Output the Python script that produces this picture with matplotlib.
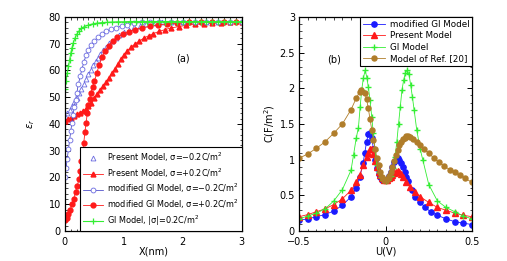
import matplotlib
matplotlib.use("Agg")
import matplotlib.pyplot as plt
from matplotlib.ticker import MultipleLocator

# ---- panel (a): relative permittivity vs distance ----
gi_x = [0, 0.02, 0.04, 0.06, 0.08, 0.10, 0.12, 0.14, 0.17, 0.20, 0.24, 0.28, 0.33, 0.40,
        0.47, 0.55, 0.63, 0.71, 0.80, 0.90, 1.0, 1.1, 1.2, 1.3, 1.4, 1.5, 1.6, 1.7, 1.8,
        1.9, 2.0, 2.1, 2.2, 2.3, 2.4, 2.5, 2.6, 2.7, 2.8, 2.9, 3.0]
gi_eps = [53, 56, 59, 61.5, 64, 66.5, 68.5, 70.2, 72, 73.5, 74.8, 75.7, 76.4, 77,
          77.4, 77.7, 77.9, 78.0, 78.1, 78.2, 78.2, 78.3, 78.3, 78.3, 78.3, 78.3, 78.3, 78.3, 78.3,
          78.3, 78.3, 78.3, 78.3, 78.3, 78.3, 78.3, 78.3, 78.3, 78.3, 78.3, 78.3]

mgi_neg_x = [0, 0.02, 0.04, 0.06, 0.08, 0.10, 0.12, 0.14, 0.16, 0.18, 0.20, 0.23, 0.26, 0.29,
             0.32, 0.36, 0.40, 0.45, 0.50, 0.56, 0.63, 0.70, 0.78, 0.87, 0.96, 1.06, 1.17,
             1.3, 1.45, 1.6, 1.8, 2.0, 2.2, 2.4, 2.6, 2.8, 3.0]
mgi_neg_eps = [20, 23.5, 27, 30.5, 34, 37.5, 40.5, 43.5, 46.5, 49, 51.5, 55, 58, 60.5,
               63, 65.8, 67.7, 69.5, 71, 72.4, 73.6, 74.6, 75.4, 76, 76.6, 77.1, 77.6,
               78, 78.2, 78.3, 78.3, 78.3, 78.3, 78.3, 78.3, 78.3, 78.3]

pm_neg_x = [0, 0.04, 0.08, 0.12, 0.16, 0.20, 0.24, 0.28, 0.32, 0.36, 0.40, 0.44, 0.48, 0.52,
            0.56, 0.60, 0.65, 0.70, 0.75, 0.80, 0.86, 0.92, 1.0, 1.08, 1.17, 1.27, 1.38, 1.5,
            1.65, 1.8, 2.0, 2.2, 2.4, 2.6, 2.8, 3.0]
pm_neg_eps = [43, 44, 45.3, 46.7, 48.2, 49.7, 51.4, 53.2, 55, 56.9, 58.7, 60.3, 61.9, 63.4,
              64.8, 66.1, 67.6, 68.9, 70.1, 71.2, 72.3, 73.3, 74.4, 75.3, 76.1, 76.8, 77.3, 77.7,
              78, 78.2, 78.3, 78.3, 78.3, 78.3, 78.3, 78.3]

pm_pos_x = [0, 0.05, 0.1, 0.15, 0.2, 0.25, 0.3, 0.35, 0.4, 0.45, 0.5, 0.55, 0.6, 0.65, 0.7,
            0.75, 0.8, 0.85, 0.9, 0.95, 1.0, 1.06, 1.12, 1.19, 1.26, 1.34, 1.42, 1.5, 1.6,
            1.7, 1.8, 1.93, 2.06, 2.2, 2.35, 2.5, 2.65, 2.8, 3.0]
pm_pos_eps = [41.2, 41.8, 42.4, 43, 43.6, 44.2, 44.8, 45.5, 46.6, 48, 49.6, 51.2, 52.6, 54.1, 55.6,
              57.3, 59, 60.6, 62.4, 64.2, 65.8, 67.4, 68.7, 69.9, 71, 72.1, 73, 73.8, 74.6,
              75.3, 75.9, 76.4, 76.9, 77.2, 77.5, 77.7, 77.9, 78, 78.1]

mgi_pos_x = [0, 0.03, 0.06, 0.09, 0.12, 0.15, 0.18, 0.21, 0.24, 0.26, 0.28, 0.30, 0.32, 0.34,
             0.36, 0.38, 0.40, 0.42, 0.44, 0.47, 0.50, 0.54, 0.58, 0.63, 0.68, 0.74, 0.81,
             0.89, 0.98, 1.08, 1.19, 1.31, 1.44, 1.58, 1.73, 1.9, 2.1, 2.3, 2.5, 2.7, 2.9]
mgi_pos_eps = [4, 5, 6.3, 8, 10, 12, 14.5, 17, 19.5, 22.5, 26, 29.5, 33, 37,
               40.5, 44, 47, 49.5, 51.5, 54, 56, 59, 62, 65, 67.3, 69.3, 71,
               72.5, 73.5, 74.5, 75.3, 75.9, 76.5, 77, 77.4, 77.7, 78, 78.1, 78.2, 78.3, 78.3]

# ---- panel (b): capacitance vs potential ----
gi_u = [-0.5, -0.45, -0.4, -0.35, -0.3, -0.25, -0.2, -0.185, -0.17, -0.157, -0.147, -0.138,
        -0.128, -0.118, -0.108, -0.1, -0.09, -0.08, -0.071, -0.061, -0.051, -0.04, -0.028,
        -0.014, 0, 0.015, 0.03, 0.045, 0.055, 0.065, 0.075, 0.085, 0.095, 0.105, 0.115,
        0.125, 0.135, 0.145, 0.155, 0.165, 0.18, 0.2, 0.215, 0.25, 0.3, 0.35, 0.4, 0.45, 0.5]
gi_c = [0.17, 0.21, 0.25, 0.31, 0.42, 0.58, 0.85, 1.07, 1.3, 1.45, 1.74, 1.98,
        2.15, 2.25, 2.15, 2.02, 1.84, 1.6, 1.37, 1.14, 0.92, 0.82, 0.75,
        0.71, 0.70, 0.72, 0.77, 0.88, 1.04, 1.25, 1.5, 1.74, 1.98, 2.12, 2.22,
        2.25, 2.2, 2.05, 1.88, 1.7, 1.42, 1.15, 1.0, 0.65, 0.42, 0.33, 0.27, 0.21, 0.17]

mgi_u = [-0.5, -0.45, -0.4, -0.35, -0.3, -0.25, -0.2, -0.17, -0.15, -0.13, -0.12, -0.11,
         -0.1, -0.09, -0.08, -0.07, -0.06, -0.05, -0.04, -0.03, -0.02, -0.01, 0, 0.01, 0.02,
         0.03, 0.04, 0.05, 0.06, 0.07, 0.08, 0.09, 0.1, 0.11, 0.12, 0.13, 0.15, 0.17, 0.2,
         0.23, 0.26, 0.3, 0.35, 0.4, 0.45, 0.5]
mgi_c = [0.15, 0.17, 0.2, 0.23, 0.28, 0.36, 0.48, 0.6, 0.75, 0.95, 1.1, 1.25,
         1.36, 1.38, 1.3, 1.15, 1.0, 0.88, 0.8, 0.75, 0.72, 0.71, 0.71, 0.73, 0.77,
         0.83, 0.9, 0.96, 1.0, 1.02, 1.0, 0.95, 0.9, 0.83, 0.76, 0.7, 0.58, 0.48, 0.4,
         0.33, 0.27, 0.22, 0.17, 0.13, 0.11, 0.09]

pm_u = [-0.5, -0.45, -0.4, -0.35, -0.3, -0.25, -0.2, -0.17, -0.15, -0.13, -0.11, -0.1,
        -0.09, -0.08, -0.07, -0.06, -0.05, -0.04, -0.03, -0.02, -0.01, 0, 0.01, 0.02, 0.03,
        0.04, 0.05, 0.06, 0.07, 0.08, 0.09, 0.1, 0.12, 0.14, 0.17, 0.2, 0.25, 0.3, 0.35,
        0.4, 0.45, 0.5]
pm_c = [0.2, 0.23, 0.27, 0.31, 0.37, 0.45, 0.57, 0.68, 0.78, 0.92, 1.04, 1.1,
        1.15, 1.15, 1.08, 0.98, 0.9, 0.83, 0.78, 0.74, 0.72, 0.71, 0.72, 0.74, 0.76,
        0.79, 0.81, 0.83, 0.84, 0.83, 0.8, 0.76, 0.69, 0.62, 0.55, 0.48, 0.4, 0.33, 0.29,
        0.25, 0.22, 0.2]

ref20_u = [-0.5, -0.45, -0.4, -0.35, -0.3, -0.25, -0.2, -0.17, -0.15, -0.14, -0.12, -0.11,
           -0.1, -0.09, -0.08, -0.07, -0.06, -0.05, -0.04, -0.03, -0.02, -0.01, 0, 0.01, 0.02,
           0.03, 0.04, 0.05, 0.06, 0.07, 0.08, 0.09, 0.1, 0.11, 0.12, 0.13, 0.14, 0.16, 0.18,
           0.2, 0.22, 0.25, 0.28, 0.31, 0.34, 0.37, 0.4, 0.43, 0.46, 0.5]
ref20_c = [1.02, 1.08, 1.16, 1.25, 1.37, 1.5, 1.7, 1.86, 1.95, 1.98, 1.94, 1.85,
           1.72, 1.57, 1.42, 1.28, 1.15, 1.02, 0.92, 0.83, 0.76, 0.72, 0.71, 0.73, 0.77,
           0.83, 0.9, 0.98, 1.06, 1.13, 1.2, 1.25, 1.29, 1.31, 1.33, 1.33, 1.32, 1.29, 1.25,
           1.2, 1.15, 1.09, 1.02, 0.96, 0.91, 0.86, 0.82, 0.78, 0.74, 0.68]

BLUE = '#1a1aff'
LBLUE = '#6a6ae0'
RED = '#ff1a1a'
GREEN = '#33ee33'
BROWN = '#b07d2a'

fig = plt.figure(figsize=(5.07, 2.61), dpi=100)
ax1 = fig.add_axes([0.128, 0.115, 0.349, 0.820])
ax2 = fig.add_axes([0.590, 0.115, 0.341, 0.820])

ax1.plot(pm_neg_x, pm_neg_eps, linestyle='none', marker='^', mfc='none', mec=LBLUE,
         ms=3.5, mew=0.6, label=r'Present Model, σ=−0.2C/m$^2$')
ax1.plot(pm_pos_x, pm_pos_eps, color=RED, lw=0.6, marker='^', ms=3.5, mec=RED, mfc=RED,
         label=r'Present Model, σ=+0.2C/m$^2$')
ax1.plot(mgi_neg_x, mgi_neg_eps, color='#3030c0', lw=0.5, marker='o', mfc='white',
         mec=LBLUE, ms=3.5, mew=0.6, label=r'modified GI Model, σ=−0.2C/m$^2$')
ax1.plot(mgi_pos_x, mgi_pos_eps, color=RED, lw=0.6, marker='o', ms=3.5, mec=RED, mfc=RED,
         label=r'modified GI Model, σ=+0.2C/m$^2$')
ax1.plot(gi_x, gi_eps, color=GREEN, lw=0.8, marker='+', ms=5, mew=0.9,
         label=r'GI Model, |σ|=0.2C/m$^2$')

ax1.set_xlim(0, 3)
ax1.set_ylim(0, 80)
ax1.xaxis.set_major_locator(MultipleLocator(1))
ax1.xaxis.set_minor_locator(MultipleLocator(0.1))
ax1.yaxis.set_major_locator(MultipleLocator(10))
ax1.yaxis.set_minor_locator(MultipleLocator(2))
ax1.set_xlabel('X(nm)', fontsize=7, labelpad=0)
ax1.set_ylabel(r'$\varepsilon_r$', fontsize=7, labelpad=8)
ax1.text(2.0, 64.5, '(a)', fontsize=7, ha='center', va='center')
leg1 = ax1.legend(loc='lower right', fontsize=5.9, frameon=True, fancybox=False,
                  edgecolor='black', borderaxespad=0, handlelength=2.5,
                  labelspacing=0.3, borderpad=0.35, handletextpad=0.5, framealpha=1)
leg1.get_frame().set_linewidth(0.8)

ax2.plot(mgi_u, mgi_c, color=BLUE, lw=0.6, marker='o', ms=3.8, mec=BLUE, mfc=BLUE,
         label='modified GI Model')
ax2.plot(pm_u, pm_c, color=RED, lw=0.6, marker='^', ms=3.8, mec=RED, mfc=RED,
         label='Present Model')
ax2.plot(gi_u, gi_c, color=GREEN, lw=0.6, marker='+', ms=5, mew=1.0,
         label='GI Model')
ax2.plot(ref20_u, ref20_c, color=BROWN, lw=0.6, marker='o', ms=3.6, mec=BROWN, mfc=BROWN,
         label='Model of Ref. [20]')

ax2.set_xlim(-0.5, 0.5)
ax2.set_ylim(0, 3)
ax2.set_xticks([-0.5, 0, 0.5])
ax2.set_xticklabels(['−0.5', '0', '0.5'])
ax2.xaxis.set_minor_locator(MultipleLocator(0.05))
ax2.set_yticks([0, 0.5, 1, 1.5, 2, 2.5, 3])
ax2.set_yticklabels(['0', '0.5', '1', '1.5', '2', '2.5', '3'])
ax2.yaxis.set_minor_locator(MultipleLocator(0.1))
ax2.set_xlabel('U(V)', fontsize=7, labelpad=0)
ax2.set_ylabel(r'C(F/m$^2$)', fontsize=7, labelpad=2)
ax2.text(-0.3, 2.4, '(b)', fontsize=7, ha='center', va='center')
leg2 = ax2.legend(loc='upper right', fontsize=6.3, frameon=True, fancybox=False,
                  edgecolor='black', borderaxespad=0, handlelength=2.6,
                  labelspacing=0.3, borderpad=0.3, handletextpad=0.5, framealpha=1)
leg2.get_frame().set_linewidth(0.8)

for ax in (ax1, ax2):
    ax.tick_params(which='both', direction='in', top=True, right=True, labelsize=7)
    ax.tick_params(axis='x', pad=4)
    ax.tick_params(axis='y', pad=3)
    ax.tick_params(which='major', length=3.5, width=0.7)
    ax.tick_params(which='minor', length=1.8, width=0.5)
    for s in ax.spines.values():
        s.set_linewidth(0.9)

fig.savefig('out.png', dpi=100)
